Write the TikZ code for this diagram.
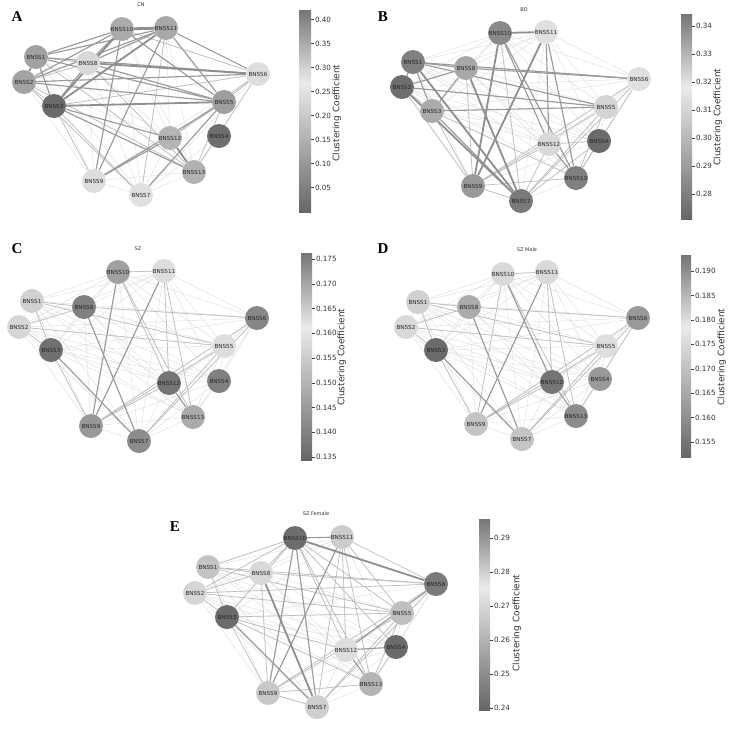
\documentclass[tikz,border=0pt]{standalone}
\usepackage{fontspec}
\setmainfont{DejaVu Sans}
\newfontfamily\letterfont{Liberation Serif}
\pgfdeclarelayer{back}
\pgfdeclarelayer{bg}
\pgfsetlayers{back,bg,main}
\colorlet{cbdark}{black!54}
\colorlet{cbdarkb}{black!60}
\colorlet{cblight}{black!8}
\tikzset{
 nd/.style={circle, minimum size=24pt, inner sep=0pt, text=black!85, font=\fontsize{5.6}{6}\selectfont},
 w0/.style={draw=black!12, line width=0.45pt},
 w1/.style={draw=black!26, line width=0.65pt},
 w2/.style={draw=black!40, line width=1.1pt},
 w3/.style={draw=black!44, line width=1.8pt},
 w4/.style={draw=black!44, line width=2.8pt},
 ttl/.style={font=\fontsize{5}{6}\selectfont, text=black!80},
 lett/.style={font=\letterfont\bfseries\fontsize{15}{16}\selectfont},
 tkl/.style={draw=black!75, line width=0.4pt},
 tkt/.style={anchor=west, inner sep=0.8pt, font=\fontsize{7.2}{8}\selectfont, text=black!80},
 cbl/.style={rotate=90, font=\fontsize{9}{10}\selectfont, text=black!80},
}
\newcommand\allpairs[2]{\foreach \i in {1,...,12}{\pgfmathtruncatemacro\k{\i+1}\foreach \j in {\k,...,13}{\ifnum\i=#2\else\ifnum\j=#2\else\draw[w0] (#1\i) -- (#1\j);\fi\fi}}}
\newcommand\edges[3]{\foreach \u/\v in {#3}{\draw[#2] (#1\u) -- (#1\v);}}
\newcommand\cbar[4]{% x, ytop, ybot, width
 \pgfmathsetmacro\ys{#2+0.36*(#3-#2)}
 \shade[top color=cbdark, bottom color=cblight] (#1,#2) rectangle (#1+#4,\ys);
 \shade[top color=cblight, bottom color=cbdarkb] (#1,\ys) rectangle (#1+#4,#3);}
\newcommand\tk[3]{\draw[tkl] (#1,#2) -- ++(3,0) node[tkt]{#3};}
\begin{document}
\begin{tikzpicture}[x=1pt,y=-1pt]
\begin{pgfonlayer}{back}
\fill[white] (0,0) rectangle (729,732);
\end{pgfonlayer}
\useasboundingbox (0,0) rectangle (729,732);
% ---------------- Panel A ----------------
\node[lett] (LA) at (17,17) {A};
\node[ttl] (TA) at (141,5) {CN};
\node[nd, fill=black!37] (A1) at (36,57) {BNSS1};
\node[nd, fill=black!36] (A2) at (24,82) {BNSS2};
\node[nd, fill=black!58] (A3) at (54,106) {BNSS3};
\node[nd, fill=black!57] (A4) at (219,136) {BNSS4};
\node[nd, fill=black!38] (A5) at (224,102) {BNSS5};
\node[nd, fill=black!13] (A6) at (258,74) {BNSS6};
\node[nd, fill=black!12] (A7) at (141,195) {BNSS7};
\node[nd, fill=black!15] (A8) at (88,63) {BNSS8};
\node[nd, fill=black!13] (A9) at (94,181) {BNSS9};
\node[nd, fill=black!33] (A10) at (122,29) {BNSS10};
\node[nd, fill=black!34] (A11) at (166,28) {BNSS11};
\node[nd, fill=black!29] (A12) at (170,138) {BNSS12};
\node[nd, fill=black!30] (A13) at (194,172) {BNSS13};
\begin{pgfonlayer}{bg}
\allpairs{A}{4}
\edges{A}{w0}{4/13,4/7}
\edges{A}{w1}{10/6,11/7,2/3,3/9,3/7,13/5,12/5,1/8,2/8,6/5,1/13,2/13,6/12,6/13,8/13,6/3,2/7}
\edges{A}{w2}{1/3,10/1,10/2,10/8,11/1,11/2,11/8,11/6,10/5,11/5,10/9,11/9,1/6,1/5,2/5,2/6,8/5,9/5,9/12,7/5,3/13,3/12,8/3}
\edges{A}{w3}{1/2,8/6,3/5,12/13,10/3,11/3}
\edges{A}{w4}{10/11}
\end{pgfonlayer}
\cbar{299}{10}{212}{12}
\foreach \v/\y in {0.40/19.5,0.35/43.5,0.30/67.5,0.25/91.5,0.20/115.5,0.15/139.5,0.10/163.5,0.05/187.5}{\tk{311}{\y}{\v}}
\node[cbl] (CLA) at (337,113) {Clustering Coefficient};
% ---------------- Panel B ----------------
\node[lett] (LB) at (383,17) {B};
\node[ttl] (TB) at (524,10) {BD};
\node[nd, fill=black!50] (B1) at (413,62) {BNSS1};
\node[nd, fill=black!57] (B2) at (402,87) {BNSS2};
\node[nd, fill=black!33] (B3) at (432,111) {BNSS3};
\node[nd, fill=black!58] (B4) at (599,141) {BNSS4};
\node[nd, fill=black!17] (B5) at (606,107) {BNSS5};
\node[nd, fill=black!12] (B6) at (639,79) {BNSS6};
\node[nd, fill=black!52] (B7) at (521,201) {BNSS7};
\node[nd, fill=black!34] (B8) at (466,68) {BNSS8};
\node[nd, fill=black!40] (B9) at (473,186) {BNSS9};
\node[nd, fill=black!46] (B10) at (500,33) {BNSS10};
\node[nd, fill=black!12] (B11) at (546,32) {BNSS11};
\node[nd, fill=black!15] (B12) at (549,144) {BNSS12};
\node[nd, fill=black!50] (B13) at (576,178) {BNSS13};
\begin{pgfonlayer}{bg}
\allpairs{B}{0}
\edges{B}{w1}{5/7,6/7,6/9,5/9,12/9,12/7,4/7,13/9,9/7,10/7,2/3,3/9,2/9,6/13,5/13,4/12,8/9,4/13,3/13}
\edges{B}{w2}{10/12,10/13,12/13,1/3,2/8,3/8,8/6,1/6,3/7,11/12,11/13,1/2,1/8,2/5,3/5,1/5}
\edges{B}{w3}{10/11,10/9,11/9,8/7,1/7,2/7}
\end{pgfonlayer}
\cbar{681}{14}{219}{11}
\foreach \v/\y in {0.34/26,0.33/54,0.32/82,0.31/110,0.30/138,0.29/166,0.28/194}{\tk{692}{\y}{\v}}
\node[cbl] (CLB) at (718,117) {Clustering Coefficient};
% ---------------- Panel C ----------------
\node[lett] (LC) at (17,249) {C};
\node[ttl] (TC) at (138,249) {SZ};
\node[nd, fill=black!18] (C1) at (32,301) {BNSS1};
\node[nd, fill=black!16] (C2) at (19,327) {BNSS2};
\node[nd, fill=black!56] (C3) at (51,350) {BNSS3};
\node[nd, fill=black!50] (C4) at (219,381) {BNSS4};
\node[nd, fill=black!13] (C5) at (224,346) {BNSS5};
\node[nd, fill=black!47] (C6) at (257,318) {BNSS6};
\node[nd, fill=black!45] (C7) at (139,441) {BNSS7};
\node[nd, fill=black!50] (C8) at (84,307) {BNSS8};
\node[nd, fill=black!40] (C9) at (91,426) {BNSS9};
\node[nd, fill=black!37] (C10) at (118,272) {BNSS10};
\node[nd, fill=black!13] (C11) at (164,271) {BNSS11};
\node[nd, fill=black!54] (C12) at (169,383) {BNSS12};
\node[nd, fill=black!33] (C13) at (193,417) {BNSS13};
\begin{pgfonlayer}{bg}
\allpairs{C}{0}
\edges{C}{w1}{10/11,10/12,10/13,11/12,11/13,8/6,1/8,2/8,1/3,6/7,5/9,12/9,6/9,5/7,1/5,2/5,3/9,2/3}
\edges{C}{w2}{8/7,12/13,10/9,11/9,3/7}
\end{pgfonlayer}
\cbar{301}{253}{460}{11}
\foreach \v/\y in {0.175/259,0.170/283.75,0.165/308.5,0.160/333.25,0.155/358,0.150/382.75,0.145/407.5,0.140/432.25,0.135/457}{\tk{312}{\y}{\v}}
\node[cbl] (CLC) at (342,357) {Clustering Coefficient};
% ---------------- Panel D ----------------
\node[lett] (LD) at (383,249) {D};
\node[ttl] (TD) at (527,250) {SZ Male};
\node[nd, fill=black!18] (D1) at (418,302) {BNSS1};
\node[nd, fill=black!15] (D2) at (406,327) {BNSS2};
\node[nd, fill=black!58] (D3) at (436,350) {BNSS3};
\node[nd, fill=black!40] (D4) at (600,379) {BNSS4};
\node[nd, fill=black!13] (D5) at (606,346) {BNSS5};
\node[nd, fill=black!40] (D6) at (638,318) {BNSS6};
\node[nd, fill=black!23] (D7) at (522,439) {BNSS7};
\node[nd, fill=black!33] (D8) at (469,307) {BNSS8};
\node[nd, fill=black!23] (D9) at (476,424) {BNSS9};
\node[nd, fill=black!15] (D10) at (503,274) {BNSS10};
\node[nd, fill=black!15] (D11) at (547,272) {BNSS11};
\node[nd, fill=black!54] (D12) at (552,382) {BNSS12};
\node[nd, fill=black!45] (D13) at (576,416) {BNSS13};
\begin{pgfonlayer}{bg}
\allpairs{D}{0}
\edges{D}{w1}{10/11,10/9,11/12,11/13,8/6,1/8,2/8,1/3,6/7,5/9,12/9,6/9,5/7,10/13,2/5,1/5,3/9,2/3,6/13}
\edges{D}{w2}{8/7,12/13,11/9,10/12,3/7}
\end{pgfonlayer}
\cbar{681}{255}{457}{10}
\foreach \v/\y in {0.190/271,0.185/295.4,0.180/319.9,0.175/344.3,0.170/368.7,0.165/393.1,0.160/417.6,0.155/442}{\tk{691}{\y}{\v}}
\node[cbl] (CLD) at (722,357) {Clustering Coefficient};
% ---------------- Panel E ----------------
\node[lett] (LE) at (175,527) {E};
\node[ttl] (TE) at (316,514) {SZ Female};
\node[nd, fill=black!23] (E1) at (208,567) {BNSS1};
\node[nd, fill=black!16] (E2) at (195,593) {BNSS2};
\node[nd, fill=black!58] (E3) at (227,617) {BNSS3};
\node[nd, fill=black!58] (E4) at (396,647) {BNSS4};
\node[nd, fill=black!25] (E5) at (402,613) {BNSS5};
\node[nd, fill=black!52] (E6) at (436,584) {BNSS6};
\node[nd, fill=black!19] (E7) at (317,707) {BNSS7};
\node[nd, fill=black!15] (E8) at (261,573) {BNSS8};
\node[nd, fill=black!21] (E9) at (268,693) {BNSS9};
\node[nd, fill=black!57] (E10) at (295,538) {BNSS10};
\node[nd, fill=black!20] (E11) at (342,537) {BNSS11};
\node[nd, fill=black!13] (E12) at (346,650) {BNSS12};
\node[nd, fill=black!29] (E13) at (371,684) {BNSS13};
\begin{pgfonlayer}{bg}
\allpairs{E}{0}
\edges{E}{w1}{5/9,6/9,5/7,1/8,2/8,1/10,2/10,8/10,3/10,3/5,2/5,1/6,8/6,10/12,10/13,11/13,11/7,11/12,4/13,5/13,9/13,9/7,3/9,1/3,2/3,1/5,2/6,3/12,3/13,6/7,10/5,11/5,11/6,8/9,10/4}
\edges{E}{w2}{3/7,10/7,11/9,10/9,10/11,12/4,12/13,6/12}
\edges{E}{w3}{8/7,10/6}
\end{pgfonlayer}
\cbar{479}{519}{710}{11}
\foreach \v/\y in {0.29/538,0.28/572,0.27/606,0.26/640,0.25/674,0.24/708}{\tk{490}{\y}{\v}}
\node[cbl] (CLE) at (517,623) {Clustering Coefficient};
\end{tikzpicture}
\end{document}
